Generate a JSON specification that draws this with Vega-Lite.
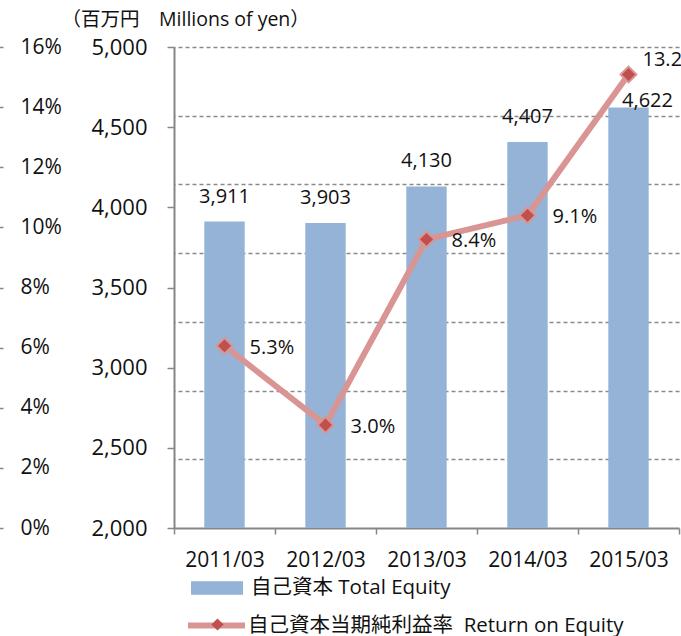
{
  "$schema": "https://vega.github.io/schema/vega-lite/v6.json",
  "width": 505,
  "height": 481,
  "autosize": "none",
  "padding": {"left": 174, "top": 47, "right": 2, "bottom": 108},
  "config": {
    "font": "'Open Sans', 'Noto Sans CJK JP', sans-serif",
    "view": {"stroke": null},
    "axis": {"labelColor": "#111111", "titleColor": "#111111", "domainColor": "#868686", "tickColor": "#868686"},
    "legend": {"labelColor": "#111111", "labelLimit": 500}
  },
  "data": {
    "values": [
      {"year": "2011/03", "equity": 3911, "roe": 0.053},
      {"year": "2012/03", "equity": 3903, "roe": 0.030},
      {"year": "2013/03", "equity": 4130, "roe": 0.084},
      {"year": "2014/03", "equity": 4407, "roe": 0.091},
      {"year": "2015/03", "equity": 4622, "roe": 0.132}
    ]
  },
  "encoding": {
    "x": {
      "field": "year",
      "type": "ordinal",
      "scale": {"paddingInner": 0, "paddingOuter": 0},
      "axis": {
        "title": null,
        "labelAngle": 0,
        "labelFontSize": 21,
        "labelPadding": 15,
        "tickSize": 6,
        "tickWidth": 1.5,
        "domainWidth": 2,
        "tickBand": "extent",
        "grid": false
      }
    }
  },
  "layer": [
    {
      "mark": {"type": "bar", "width": {"band": 0.4}},
      "encoding": {
        "y": {
          "field": "equity",
          "type": "quantitative",
          "scale": {"domain": [2000, 5000], "nice": false, "zero": false},
          "axis": {
            "orient": "left",
            "values": [2000, 2500, 3000, 3500, 4000, 4500, 5000],
            "format": ",.0f",
            "labelFontSize": 22,
            "labelPadding": 20,
            "tickSize": 7,
            "tickWidth": 1.5,
            "domainWidth": 2,
            "grid": false,
            "title": "（百万円　Millions of yen）",
            "titleAngle": 0,
            "titleAlign": "left",
            "titleBaseline": "middle",
            "titleX": -113,
            "titleY": -28,
            "titleFontSize": 19.5,
            "titleFontWeight": "normal"
          }
        },
        "y2": {"datum": 2000},
        "fill": {
          "datum": "自己資本 Total Equity",
          "type": "nominal",
          "scale": {"range": ["#95b3d7"]},
          "legend": {
            "orient": "none",
            "legendX": 17,
            "legendY": 515,
            "title": null,
            "padding": 0,
            "symbolType": "M-1,-0.2635H1V0.2635H-1Z",
            "symbolSize": 2704,
            "symbolStrokeWidth": 0,
            "labelFontSize": 20.5,
            "labelOffset": 8
          }
        }
      }
    },
    {
      "transform": [{"filter": "datum.year != '2015/03'"}],
      "mark": {"type": "text", "dy": -25, "fontSize": 20, "color": "#111111", "baseline": "middle"},
      "encoding": {
        "y": {"field": "equity", "type": "quantitative", "scale": {"domain": [2000, 5000], "nice": false, "zero": false}, "axis": null},
        "text": {"field": "equity", "type": "quantitative", "format": ","}
      }
    },
    {
      "transform": [{"filter": "datum.year == '2015/03'"}],
      "mark": {"type": "text", "dx": 19, "dy": -7, "fontSize": 20, "color": "#111111", "baseline": "middle"},
      "encoding": {
        "y": {"field": "equity", "type": "quantitative", "scale": {"domain": [2000, 5000], "nice": false, "zero": false}, "axis": null},
        "text": {"field": "equity", "type": "quantitative", "format": ","}
      }
    },
    {
      "mark": {"type": "line", "strokeWidth": 6},
      "encoding": {
        "y": {
          "field": "roe",
          "type": "quantitative",
          "scale": {"domain": [0, 0.14], "nice": false},
          "axis": {
            "orient": "right",
            "grid": true,
            "values": [0.02, 0.04, 0.06, 0.08, 0.10, 0.12, 0.14],
            "labels": false,
            "ticks": false,
            "domain": false,
            "title": null,
            "gridColor": "#8a8a8a",
            "gridDash": [4, 3],
            "gridWidth": 1.5
          }
        },
        "stroke": {
          "datum": "自己資本当期純利益率\u00a0\u00a0Return on Equity",
          "type": "nominal",
          "scale": {"range": ["#d99594"]},
          "legend": {
            "orient": "none",
            "legendX": 11,
            "legendY": 547,
            "title": null,
            "padding": 0,
            "symbolType": "M-1,0H1",
            "symbolSize": 3249,
            "symbolStrokeWidth": 6,
            "labelFontSize": 20.5,
            "labelOffset": 0
          }
        }
      }
    },
    {
      "mark": {"type": "point", "filled": true, "color": "#c0504d", "stroke": "#d99594", "strokeWidth": 2, "size": 250, "opacity": 1},
      "encoding": {
        "y": {"field": "roe", "type": "quantitative", "scale": {"domain": [0, 0.14], "nice": false}, "axis": null},
        "shape": {
          "datum": "roe_marker",
          "type": "nominal",
          "scale": {"range": ["diamond"]},
          "legend": {
            "orient": "none",
            "legendX": 36,
            "legendY": 570,
            "title": null,
            "padding": 0,
            "symbolSize": 150,
            "symbolFillColor": "#c0504d",
            "symbolStrokeColor": "#d99594",
            "symbolStrokeWidth": 2,
            "symbolOpacity": 1,
            "labelExpr": "''"
          }
        }
      }
    },
    {
      "transform": [{"filter": "datum.year != '2015/03'"}],
      "mark": {"type": "text", "align": "left", "dx": 25, "dy": 2, "fontSize": 20, "color": "#111111", "baseline": "middle"},
      "encoding": {
        "y": {"field": "roe", "type": "quantitative", "scale": {"domain": [0, 0.14], "nice": false}, "axis": null},
        "text": {"field": "roe", "type": "quantitative", "format": ".1%"}
      }
    },
    {
      "transform": [{"filter": "datum.year == '2015/03'"}],
      "mark": {"type": "text", "align": "left", "dx": 14, "dy": -14, "fontSize": 20, "color": "#111111", "baseline": "middle"},
      "encoding": {
        "y": {"field": "roe", "type": "quantitative", "scale": {"domain": [0, 0.14], "nice": false}, "axis": null},
        "text": {"field": "roe", "type": "quantitative", "format": ".1%"}
      }
    },
    {
      "mark": {"type": "point", "opacity": 0},
      "encoding": {
        "y": {
          "field": "roe",
          "type": "quantitative",
          "scale": {"domain": [0, 0.16], "nice": false},
          "axis": {
            "orient": "right",
            "offset": -683,
            "values": [0, 0.02, 0.04, 0.06, 0.08, 0.10, 0.12, 0.14, 0.16],
            "format": ".0%",
            "labelFontSize": 21,
            "tickSize": 7,
            "tickWidth": 1.5,
            "labelPadding": 17,
            "domain": false,
            "grid": false,
            "title": null
          }
        }
      }
    }
  ],
  "resolve": {"scale": {"y": "independent"}, "axis": {"y": "independent"}}
}
